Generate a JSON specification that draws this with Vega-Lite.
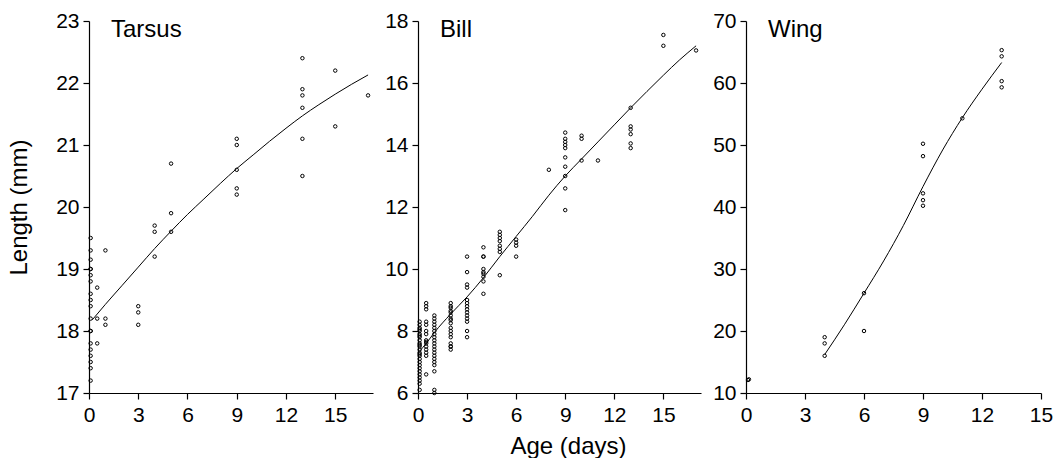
{
  "$schema": "https://vega.github.io/schema/vega-lite/v6.json",
  "padding": {"left": 7, "top": 10, "right": 0, "bottom": 0},
  "spacing": 11,
  "config": {
    "view": {"stroke": null},
    "font": "Liberation Sans",
    "axis": {
      "domainColor": "black", "tickColor": "black", "labelColor": "black", "titleColor": "black",
      "labelFontSize": 21, "titleFontSize": 24, "titleFontWeight": "normal", "tickSize": 6,
      "grid": false, "labelFont": "Liberation Sans", "titleFont": "Liberation Sans",
      "labelPadding": 4, "domainWidth": 1.2, "tickWidth": 1.2, "format": "d"
    },
    "axisX": {"labelFlush": false, "labelPadding": 5},
    "title": {"anchor": "start", "frame": "group", "fontSize": 24, "fontWeight": "normal", "color": "black", "dx": 22, "offset": -32, "baseline": "alphabetic", "font": "Liberation Sans"}
  },
  "datasets": {
    "pts": [
      {"panel":"Tarsus","age":0.1,"length":19.5},{"panel":"Tarsus","age":0.1,"length":19.3},{"panel":"Tarsus","age":0.1,"length":19.15},{"panel":"Tarsus","age":0.1,"length":19.0},{"panel":"Tarsus","age":0.1,"length":19.0},{"panel":"Tarsus","age":0.1,"length":18.9},{"panel":"Tarsus","age":0.1,"length":18.8},{"panel":"Tarsus","age":0.1,"length":18.6},{"panel":"Tarsus","age":0.1,"length":18.5},{"panel":"Tarsus","age":0.1,"length":18.4},{"panel":"Tarsus","age":0.1,"length":18.2},{"panel":"Tarsus","age":0.1,"length":18.0},{"panel":"Tarsus","age":0.1,"length":18.0},{"panel":"Tarsus","age":0.1,"length":17.8},{"panel":"Tarsus","age":0.1,"length":17.7},{"panel":"Tarsus","age":0.1,"length":17.6},{"panel":"Tarsus","age":0.1,"length":17.5},{"panel":"Tarsus","age":0.1,"length":17.4},{"panel":"Tarsus","age":0.1,"length":17.2},
      {"panel":"Tarsus","age":0.5,"length":18.7},{"panel":"Tarsus","age":0.5,"length":18.2},{"panel":"Tarsus","age":0.5,"length":17.8},
      {"panel":"Tarsus","age":1,"length":19.3},{"panel":"Tarsus","age":1,"length":18.2},{"panel":"Tarsus","age":1,"length":18.1},
      {"panel":"Tarsus","age":3,"length":18.4},{"panel":"Tarsus","age":3,"length":18.3},{"panel":"Tarsus","age":3,"length":18.1},
      {"panel":"Tarsus","age":4,"length":19.7},{"panel":"Tarsus","age":4,"length":19.6},{"panel":"Tarsus","age":4,"length":19.2},
      {"panel":"Tarsus","age":5,"length":20.7},{"panel":"Tarsus","age":5,"length":19.9},{"panel":"Tarsus","age":5,"length":19.6},
      {"panel":"Tarsus","age":9,"length":21.1},{"panel":"Tarsus","age":9,"length":21.0},{"panel":"Tarsus","age":9,"length":20.6},{"panel":"Tarsus","age":9,"length":20.3},{"panel":"Tarsus","age":9,"length":20.2},
      {"panel":"Tarsus","age":13,"length":22.4},{"panel":"Tarsus","age":13,"length":21.9},{"panel":"Tarsus","age":13,"length":21.8},{"panel":"Tarsus","age":13,"length":21.6},{"panel":"Tarsus","age":13,"length":21.1},{"panel":"Tarsus","age":13,"length":20.5},
      {"panel":"Tarsus","age":15,"length":22.2},{"panel":"Tarsus","age":15,"length":21.3},
      {"panel":"Tarsus","age":17,"length":21.8},

      {"panel":"Bill","age":0.1,"length":8.3},{"panel":"Bill","age":0.1,"length":8.2},{"panel":"Bill","age":0.1,"length":8.1},{"panel":"Bill","age":0.1,"length":8.05},{"panel":"Bill","age":0.1,"length":8.0},{"panel":"Bill","age":0.1,"length":7.9},{"panel":"Bill","age":0.1,"length":7.85},{"panel":"Bill","age":0.1,"length":7.8},{"panel":"Bill","age":0.1,"length":7.7},{"panel":"Bill","age":0.1,"length":7.6},{"panel":"Bill","age":0.1,"length":7.55},{"panel":"Bill","age":0.1,"length":7.5},{"panel":"Bill","age":0.1,"length":7.4},{"panel":"Bill","age":0.1,"length":7.3},{"panel":"Bill","age":0.1,"length":7.25},{"panel":"Bill","age":0.1,"length":7.2},{"panel":"Bill","age":0.1,"length":7.1},{"panel":"Bill","age":0.1,"length":7.0},{"panel":"Bill","age":0.1,"length":6.9},{"panel":"Bill","age":0.1,"length":6.8},{"panel":"Bill","age":0.1,"length":6.7},{"panel":"Bill","age":0.1,"length":6.6},{"panel":"Bill","age":0.1,"length":6.5},{"panel":"Bill","age":0.1,"length":6.4},{"panel":"Bill","age":0.1,"length":6.3},{"panel":"Bill","age":0.1,"length":6.1},
      {"panel":"Bill","age":0.5,"length":8.9},{"panel":"Bill","age":0.5,"length":8.8},{"panel":"Bill","age":0.5,"length":8.7},{"panel":"Bill","age":0.5,"length":8.3},{"panel":"Bill","age":0.5,"length":8.2},{"panel":"Bill","age":0.5,"length":8.0},{"panel":"Bill","age":0.5,"length":7.9},{"panel":"Bill","age":0.5,"length":7.7},{"panel":"Bill","age":0.5,"length":7.65},{"panel":"Bill","age":0.5,"length":7.6},{"panel":"Bill","age":0.5,"length":7.5},{"panel":"Bill","age":0.5,"length":7.4},{"panel":"Bill","age":0.5,"length":7.3},{"panel":"Bill","age":0.5,"length":7.2},{"panel":"Bill","age":0.5,"length":6.6},
      {"panel":"Bill","age":1,"length":8.5},{"panel":"Bill","age":1,"length":8.4},{"panel":"Bill","age":1,"length":8.3},{"panel":"Bill","age":1,"length":8.2},{"panel":"Bill","age":1,"length":8.1},{"panel":"Bill","age":1,"length":8.0},{"panel":"Bill","age":1,"length":7.9},{"panel":"Bill","age":1,"length":7.8},{"panel":"Bill","age":1,"length":7.7},{"panel":"Bill","age":1,"length":7.6},{"panel":"Bill","age":1,"length":7.5},{"panel":"Bill","age":1,"length":7.4},{"panel":"Bill","age":1,"length":7.3},{"panel":"Bill","age":1,"length":7.2},{"panel":"Bill","age":1,"length":7.1},{"panel":"Bill","age":1,"length":7.0},{"panel":"Bill","age":1,"length":6.9},{"panel":"Bill","age":1,"length":6.7},{"panel":"Bill","age":1,"length":6.1},{"panel":"Bill","age":1,"length":6.0},
      {"panel":"Bill","age":2,"length":8.9},{"panel":"Bill","age":2,"length":8.8},{"panel":"Bill","age":2,"length":8.75},{"panel":"Bill","age":2,"length":8.65},{"panel":"Bill","age":2,"length":8.6},{"panel":"Bill","age":2,"length":8.5},{"panel":"Bill","age":2,"length":8.4},{"panel":"Bill","age":2,"length":8.35},{"panel":"Bill","age":2,"length":8.25},{"panel":"Bill","age":2,"length":8.1},{"panel":"Bill","age":2,"length":8.0},{"panel":"Bill","age":2,"length":7.9},{"panel":"Bill","age":2,"length":7.8},{"panel":"Bill","age":2,"length":7.6},{"panel":"Bill","age":2,"length":7.5},{"panel":"Bill","age":2,"length":7.5},{"panel":"Bill","age":2,"length":7.4},
      {"panel":"Bill","age":3,"length":10.4},{"panel":"Bill","age":3,"length":9.9},{"panel":"Bill","age":3,"length":9.5},{"panel":"Bill","age":3,"length":9.4},{"panel":"Bill","age":3,"length":9.0},{"panel":"Bill","age":3,"length":8.9},{"panel":"Bill","age":3,"length":8.8},{"panel":"Bill","age":3,"length":8.7},{"panel":"Bill","age":3,"length":8.6},{"panel":"Bill","age":3,"length":8.5},{"panel":"Bill","age":3,"length":8.4},{"panel":"Bill","age":3,"length":8.3},{"panel":"Bill","age":3,"length":8.0},{"panel":"Bill","age":3,"length":7.8},
      {"panel":"Bill","age":4,"length":10.7},{"panel":"Bill","age":4,"length":10.4},{"panel":"Bill","age":4,"length":10.4},{"panel":"Bill","age":4,"length":10.0},{"panel":"Bill","age":4,"length":9.9},{"panel":"Bill","age":4,"length":9.85},{"panel":"Bill","age":4,"length":9.75},{"panel":"Bill","age":4,"length":9.6},{"panel":"Bill","age":4,"length":9.2},
      {"panel":"Bill","age":5,"length":11.2},{"panel":"Bill","age":5,"length":11.1},{"panel":"Bill","age":5,"length":11.0},{"panel":"Bill","age":5,"length":10.9},{"panel":"Bill","age":5,"length":10.75},{"panel":"Bill","age":5,"length":10.65},{"panel":"Bill","age":5,"length":10.55},{"panel":"Bill","age":5,"length":9.8},
      {"panel":"Bill","age":6,"length":10.95},{"panel":"Bill","age":6,"length":10.85},{"panel":"Bill","age":6,"length":10.75},{"panel":"Bill","age":6,"length":10.4},
      {"panel":"Bill","age":8,"length":13.2},
      {"panel":"Bill","age":9,"length":14.4},{"panel":"Bill","age":9,"length":14.2},{"panel":"Bill","age":9,"length":14.1},{"panel":"Bill","age":9,"length":14.0},{"panel":"Bill","age":9,"length":13.9},{"panel":"Bill","age":9,"length":13.6},{"panel":"Bill","age":9,"length":13.3},{"panel":"Bill","age":9,"length":13.0},{"panel":"Bill","age":9,"length":12.6},{"panel":"Bill","age":9,"length":11.9},
      {"panel":"Bill","age":10,"length":14.3},{"panel":"Bill","age":10,"length":14.2},{"panel":"Bill","age":10,"length":13.5},
      {"panel":"Bill","age":11,"length":13.5},
      {"panel":"Bill","age":13,"length":15.2},{"panel":"Bill","age":13,"length":14.6},{"panel":"Bill","age":13,"length":14.5},{"panel":"Bill","age":13,"length":14.35},{"panel":"Bill","age":13,"length":14.05},{"panel":"Bill","age":13,"length":13.9},
      {"panel":"Bill","age":15,"length":17.55},{"panel":"Bill","age":15,"length":17.2},
      {"panel":"Bill","age":17,"length":17.05},

      {"panel":"Wing","age":0.1,"length":12.1},{"panel":"Wing","age":0.15,"length":12.2},
      {"panel":"Wing","age":4,"length":19},{"panel":"Wing","age":4,"length":18},{"panel":"Wing","age":4,"length":16},
      {"panel":"Wing","age":6,"length":26.1},{"panel":"Wing","age":6,"length":20},
      {"panel":"Wing","age":9,"length":50.2},{"panel":"Wing","age":9,"length":48.2},{"panel":"Wing","age":9,"length":42.2},{"panel":"Wing","age":9,"length":41.1},{"panel":"Wing","age":9,"length":40.2},
      {"panel":"Wing","age":11,"length":54.3},
      {"panel":"Wing","age":13,"length":65.3},{"panel":"Wing","age":13,"length":64.3},{"panel":"Wing","age":13,"length":60.3},{"panel":"Wing","age":13,"length":59.3}
    ],
    "fit": [
      {"panel":"Tarsus","age":0.2,"fit":18.18},{"panel":"Tarsus","age":1,"fit":18.43},{"panel":"Tarsus","age":2,"fit":18.73},{"panel":"Tarsus","age":3,"fit":19.03},{"panel":"Tarsus","age":4,"fit":19.33},{"panel":"Tarsus","age":5,"fit":19.61},{"panel":"Tarsus","age":6,"fit":19.88},{"panel":"Tarsus","age":7,"fit":20.13},{"panel":"Tarsus","age":8,"fit":20.38},{"panel":"Tarsus","age":9,"fit":20.62},{"panel":"Tarsus","age":10,"fit":20.84},{"panel":"Tarsus","age":11,"fit":21.06},{"panel":"Tarsus","age":12,"fit":21.27},{"panel":"Tarsus","age":13,"fit":21.47},{"panel":"Tarsus","age":14,"fit":21.65},{"panel":"Tarsus","age":15,"fit":21.82},{"panel":"Tarsus","age":16,"fit":21.98},{"panel":"Tarsus","age":17,"fit":22.13},
      {"panel":"Bill","age":0.1,"fit":7.35},{"panel":"Bill","age":0.5,"fit":7.6},{"panel":"Bill","age":1,"fit":7.95},{"panel":"Bill","age":2,"fit":8.55},{"panel":"Bill","age":3,"fit":9.1},{"panel":"Bill","age":4,"fit":9.72},{"panel":"Bill","age":5,"fit":10.4},{"panel":"Bill","age":6,"fit":11.05},{"panel":"Bill","age":7,"fit":11.7},{"panel":"Bill","age":8,"fit":12.38},{"panel":"Bill","age":9,"fit":13.0},{"panel":"Bill","age":10,"fit":13.55},{"panel":"Bill","age":11,"fit":14.1},{"panel":"Bill","age":12,"fit":14.65},{"panel":"Bill","age":13,"fit":15.2},{"panel":"Bill","age":14,"fit":15.73},{"panel":"Bill","age":15,"fit":16.25},{"panel":"Bill","age":16,"fit":16.75},{"panel":"Bill","age":17,"fit":17.2},
      {"panel":"Wing","age":4,"fit":16.2},{"panel":"Wing","age":5,"fit":21.0},{"panel":"Wing","age":6,"fit":26.1},{"panel":"Wing","age":7,"fit":31.3},{"panel":"Wing","age":8,"fit":37.0},{"panel":"Wing","age":9,"fit":43.3},{"panel":"Wing","age":10,"fit":49.2},{"panel":"Wing","age":11,"fit":54.4},{"panel":"Wing","age":12,"fit":59.0},{"panel":"Wing","age":13,"fit":63.3}
    ]
  },
  "hconcat": [
    {
      "width": 284, "height": 372,
      "title": {"text": "Tarsus"},
      "layer": [
        {
          "data": {"name": "pts"},
          "transform": [{"filter": "datum.panel === 'Tarsus'"}],
          "mark": {"type": "point", "shape": "circle", "filled": false, "size": 12, "strokeWidth": 1, "color": "black", "opacity": 1},
          "encoding": {
            "x": {"field": "age", "type": "quantitative", "scale": {"domain": [0, 17.3], "nice": false, "zero": false}, "axis": {"values": [0, 3, 6, 9, 12, 15], "title": null}},
            "y": {"field": "length", "type": "quantitative", "scale": {"domain": [17, 23], "nice": false, "zero": false}, "axis": {"values": [17, 18, 19, 20, 21, 22, 23], "title": "Length (mm)", "titlePadding": 24}}
          }
        },
        {
          "data": {"name": "fit"},
          "transform": [{"filter": "datum.panel === 'Tarsus'"}],
          "mark": {"type": "line", "color": "black", "strokeWidth": 1, "interpolate": "monotone"},
          "encoding": {
            "x": {"field": "age", "type": "quantitative"},
            "y": {"field": "fit", "type": "quantitative"}
          }
        }
      ]
    },
    {
      "width": 283, "height": 372,
      "title": {"text": "Bill"},
      "layer": [
        {
          "data": {"name": "pts"},
          "transform": [{"filter": "datum.panel === 'Bill'"}],
          "mark": {"type": "point", "shape": "circle", "filled": false, "size": 12, "strokeWidth": 1, "color": "black", "opacity": 1},
          "encoding": {
            "x": {"field": "age", "type": "quantitative", "scale": {"domain": [0, 17.3], "nice": false, "zero": false}, "axis": {"values": [0, 3, 6, 9, 12, 15], "title": "Age (days)", "titlePadding": 9, "titleX": 150}},
            "y": {"field": "length", "type": "quantitative", "scale": {"domain": [6, 18], "nice": false, "zero": false}, "axis": {"values": [6, 8, 10, 12, 14, 16, 18], "title": null}}
          }
        },
        {
          "data": {"name": "fit"},
          "transform": [{"filter": "datum.panel === 'Bill'"}],
          "mark": {"type": "line", "color": "black", "strokeWidth": 1, "interpolate": "monotone"},
          "encoding": {
            "x": {"field": "age", "type": "quantitative"},
            "y": {"field": "fit", "type": "quantitative"}
          }
        }
      ]
    },
    {
      "width": 295, "height": 372,
      "title": {"text": "Wing"},
      "layer": [
        {
          "data": {"name": "pts"},
          "transform": [{"filter": "datum.panel === 'Wing'"}],
          "mark": {"type": "point", "shape": "circle", "filled": false, "size": 12, "strokeWidth": 1, "color": "black", "opacity": 1},
          "encoding": {
            "x": {"field": "age", "type": "quantitative", "scale": {"domain": [0, 15], "nice": false, "zero": false}, "axis": {"values": [0, 3, 6, 9, 12, 15], "title": null}},
            "y": {"field": "length", "type": "quantitative", "scale": {"domain": [10, 70], "nice": false, "zero": false}, "axis": {"values": [10, 20, 30, 40, 50, 60, 70], "title": null}}
          }
        },
        {
          "data": {"name": "fit"},
          "transform": [{"filter": "datum.panel === 'Wing'"}],
          "mark": {"type": "line", "color": "black", "strokeWidth": 1, "interpolate": "monotone"},
          "encoding": {
            "x": {"field": "age", "type": "quantitative"},
            "y": {"field": "fit", "type": "quantitative"}
          }
        }
      ]
    }
  ]
}
